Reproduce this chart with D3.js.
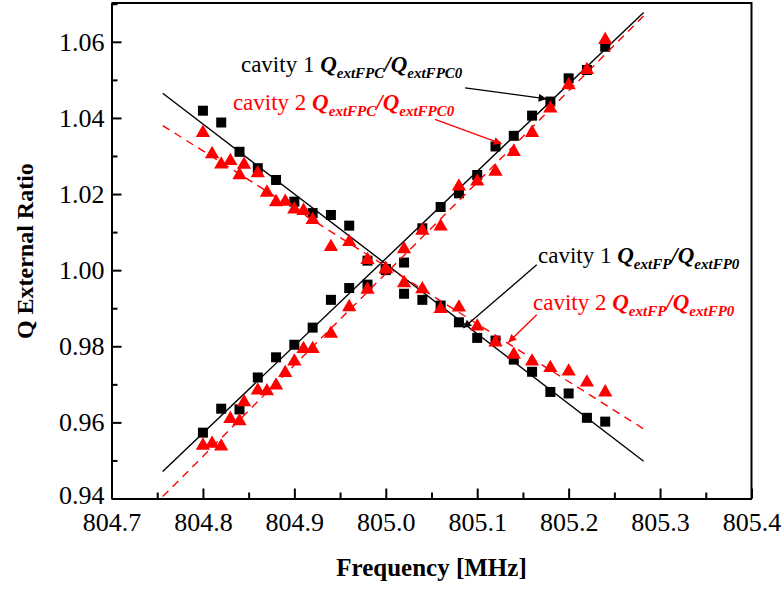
<!DOCTYPE html>
<html>
<head>
<meta charset="utf-8">
<script src="https://cdn.jsdelivr.net/npm/d3@7/dist/d3.min.js"></script>
<style>
body { margin: 0; background: #fff; }
svg, svg text { font-family: "Liberation Serif", "Times New Roman", serif; }
</style>
</head>
<body>
<svg width="784" height="590"></svg>
<script>
// cavity 1, 0.02 MHz steps
var freqCav1 = [804.80, 804.82, 804.84, 804.86, 804.88, 804.90, 804.92, 804.94, 804.96, 804.98,
                805.00, 805.02, 805.04, 805.06, 805.08, 805.10, 805.12, 805.14, 805.16, 805.18,
                805.20, 805.22, 805.24];
var cav1FPC = [0.9573, 0.9636, 0.9634, 0.9718, 0.9771, 0.9804, 0.9849, 0.9922, 0.9953, 0.9962,
               1.0003, 1.0020, 1.0110, 1.0166, 1.0202, 1.0250, 1.0325, 1.0353, 1.0406, 1.0443,
               1.0504, 1.0526, 1.0587];
var cav1FP = [1.0419, 1.0388, 1.0311, 1.0268, 1.0237, 1.0180, 1.0150, 1.0145, 1.0117, 1.0025,
              1.0000, 0.9938, 0.9922, 0.9907, 0.9863, 0.9822, 0.9815, 0.9765, 0.9733, 0.9680,
              0.9676, 0.9612, 0.9602];

// cavity 2, finer steps at the low end
var freqCav2 = [804.80, 804.81, 804.82, 804.83, 804.84, 804.845, 804.86, 804.87, 804.88, 804.89,
                804.90, 804.91, 804.92, 804.94, 804.96, 804.98, 805.00, 805.02, 805.04, 805.06,
                805.08, 805.10, 805.12, 805.14, 805.16, 805.18, 805.20, 805.22, 805.24];
var cav2FPC = [0.9539, 0.9544, 0.9537, 0.9609, 0.9603, 0.9653, 0.9684, 0.9682, 0.9697, 0.9730,
               0.9760, 0.9793, 0.9793, 0.9833, 0.9903, 0.9949, 1.0003, 1.0055, 1.0104, 1.0115,
               1.0220, 1.0233, 1.0259, 1.0311, 1.0361, 1.0425, 1.0486, 1.0526, 1.0605];
var cav2FP = [1.0361, 1.0305, 1.0278, 1.0287, 1.0250, 1.0277, 1.0255, 1.0204, 1.0179, 1.0180,
              1.0160, 1.0156, 1.0132, 1.0061, 1.0074, 1.0027, 1.0003, 0.9966, 0.9950, 0.9898,
              0.9902, 0.9852, 0.9810, 0.9778, 0.9760, 0.9743, 0.9734, 0.9705, 0.9679];

// linear fits (end points)
var fitFreq = [804.756, 805.282];
var fitCav1FPC = [0.9471, 1.0677];
var fitCav1FP = [1.0465, 0.9498];
var fitCav2FPC = [0.9405, 1.0668];
var fitCav2FP = [1.0380, 0.9583];

var xTicks = [804.7, 804.8, 804.9, 805.0, 805.1, 805.2, 805.3, 805.4];
var yTicks = [0.94, 0.96, 0.98, 1.00, 1.02, 1.04, 1.06];

var serif = "Liberation Serif, Times New Roman, serif";

var svg = d3.select("svg");
var margin = {left: 111.5, right: 32.5, top: 3, bottom: 91.5};
var width = svg.attr("width") - margin.left - margin.right;
var height = svg.attr("height") - margin.top - margin.bottom;

var x = d3.scaleLinear().domain([804.7, 805.4]).range([0, width]);
var y = d3.scaleLinear().domain([0.94, 1.0702]).range([height, 0]);

var g = svg.append("g")
    .attr("transform", "translate(" + margin.left + "," + margin.top + ")");

var defs = svg.append("defs");
["black", "red"].forEach(function(c) {
    defs.append("marker")
        .attr("id", "arrow-" + c)
        .attr("viewBox", "0 0 10 10")
        .attr("refX", 10).attr("refY", 5)
        .attr("markerWidth", 11).attr("markerHeight", 8)
        .attr("markerUnits", "userSpaceOnUse")
        .attr("orient", "auto")
        .append("path")
        .attr("d", "M0,0L10,5L0,10z")
        .attr("fill", c);
});

var clip = defs.append("clipPath").attr("id", "plot-clip");
clip.append("rect").attr("width", width).attr("height", height);

var plot = g.append("g").attr("clip-path", "url(#plot-clip)");

function pairs(xs, ys) {
    return xs.map(function(d, i) { return [d, ys[i]]; });
}

var line = d3.line()
    .x(function(d) { return x(d[0]); })
    .y(function(d) { return y(d[1]); });

function drawFit(vals, color, dash) {
    plot.append("path")
        .attr("d", line(pairs(fitFreq, vals)))
        .attr("fill", "none")
        .attr("stroke", color)
        .attr("stroke-width", 1.4)
        .attr("stroke-dasharray", dash);
}

function drawSquares(xs, ys) {
    plot.append("g").selectAll("rect")
        .data(pairs(xs, ys))
        .enter().append("rect")
        .attr("x", function(d) { return x(d[0]) - 5; })
        .attr("y", function(d) { return y(d[1]) - 5; })
        .attr("width", 10)
        .attr("height", 10)
        .attr("fill", "black");
}

var tri = d3.symbol().type(d3.symbolTriangle).size(88);
function drawTriangles(xs, ys) {
    plot.append("g").selectAll("path")
        .data(pairs(xs, ys))
        .enter().append("path")
        .attr("d", tri)
        .attr("transform", function(d) { return "translate(" + x(d[0]) + "," + y(d[1]) + ")"; })
        .attr("fill", "red");
}

drawFit(fitCav1FP, "black", null);
drawFit(fitCav1FPC, "black", null);
drawSquares(freqCav1, cav1FP);
drawSquares(freqCav1, cav1FPC);
drawFit(fitCav2FP, "red", "8,6");
drawFit(fitCav2FPC, "red", "8,6");
drawTriangles(freqCav2, cav2FP);
drawTriangles(freqCav2, cav2FPC);

// axes, ticks inward
var minorX = d3.range(804.75, 805.4, 0.1);
var minorY = d3.range(0.95, 1.07, 0.02);

g.append("g")
    .attr("class", "axis x-axis")
    .attr("transform", "translate(0," + height + ")")
    .call(d3.axisBottom(x).tickValues(minorX).tickSize(-6).tickSizeOuter(0).tickFormat(""));
g.append("g")
    .attr("class", "axis x-axis")
    .attr("transform", "translate(0," + height + ")")
    .call(d3.axisBottom(x).tickValues(xTicks).tickSize(-10).tickSizeOuter(0).tickPadding(14)
        .tickFormat(d3.format(".1f")));

g.append("g")
    .attr("class", "axis y-axis")
    .call(d3.axisLeft(y).tickValues(minorY).tickSize(-6).tickSizeOuter(0).tickFormat(""));
g.append("g")
    .attr("class", "axis y-axis")
    .call(d3.axisLeft(y).tickValues(yTicks).tickSize(-10).tickSizeOuter(0).tickPadding(7)
        .tickFormat(d3.format(".2f")));

g.selectAll(".axis")
    .attr("font-family", serif)
    .attr("font-size", 26);
g.selectAll(".axis path.domain").attr("stroke-width", 2);
g.selectAll(".axis line").attr("stroke-width", 2);
g.selectAll(".axis text")
    .style("font-family", serif)
    .attr("fill", "black");
g.selectAll(".y-axis text").filter(function(d) { return d === 0.94; })
    .attr("dy", "0.2em");

// top and right frame
g.append("path")
    .attr("d", "M0,0H" + width + "V" + height)
    .attr("fill", "none")
    .attr("stroke", "black")
    .attr("stroke-width", 2);

svg.append("text")
    .attr("transform", "translate(33," + (margin.top + y(1.005)) + ") rotate(-90)")
    .attr("text-anchor", "middle")
    .attr("font-weight", "bold")
    .attr("font-size", 24)
    .text("Q External Ratio");

svg.append("text")
    .attr("x", margin.left + width / 2)
    .attr("y", 576)
    .attr("text-anchor", "middle")
    .attr("font-weight", "bold")
    .attr("font-size", 25)
    .text("Frequency [MHz]");

// annotations
var notes = [
    {f: 804.8416, v: 1.0521, color: "black", cav: "cavity 1 ", sub: "extFPC"},
    {f: 804.8328, v: 1.0421, color: "red", cav: "cavity 2 ", sub: "extFPC"},
    {f: 805.1665, v: 1.0019, color: "black", cav: "cavity 1 ", sub: "extFP"},
    {f: 805.1610, v: 0.9896, color: "red", cav: "cavity 2 ", sub: "extFP"}
];

notes.forEach(function(n) {
    var t = g.append("text")
        .attr("x", x(n.f))
        .attr("y", y(n.v))
        .attr("font-size", 23)
        .attr("fill", n.color);
    t.append("tspan").text(n.cav);
    var bi = function(s) {
        return t.append("tspan").attr("font-weight", "bold").attr("font-style", "italic").text(s);
    };
    bi("Q");
    bi(n.sub).attr("font-size", 15).attr("dy", 6);
    bi("/").attr("dy", -6);
    bi("Q");
    bi(n.sub + "0").attr("font-size", 15).attr("dy", 6);
});

var arrows = [
    {from: [805.0867, 1.0479], to: [805.1760, 1.0450], color: "black"},
    {from: [805.0538, 1.0396], to: [805.1268, 1.0332], color: "red"},
    {from: [805.1651, 1.0014], to: [805.0848, 0.9848], color: "black"},
    {from: [805.1651, 0.9883], to: [805.1340, 0.9810], color: "red"}
];

g.selectAll(".arrow")
    .data(arrows)
    .enter().append("line")
    .attr("class", "arrow")
    .attr("x1", function(d) { return x(d.from[0]); })
    .attr("y1", function(d) { return y(d.from[1]); })
    .attr("x2", function(d) { return x(d.to[0]); })
    .attr("y2", function(d) { return y(d.to[1]); })
    .attr("stroke", function(d) { return d.color; })
    .attr("stroke-width", 1.3)
    .attr("marker-end", function(d) { return "url(#arrow-" + d.color + ")"; });
</script>
</body>
</html>
